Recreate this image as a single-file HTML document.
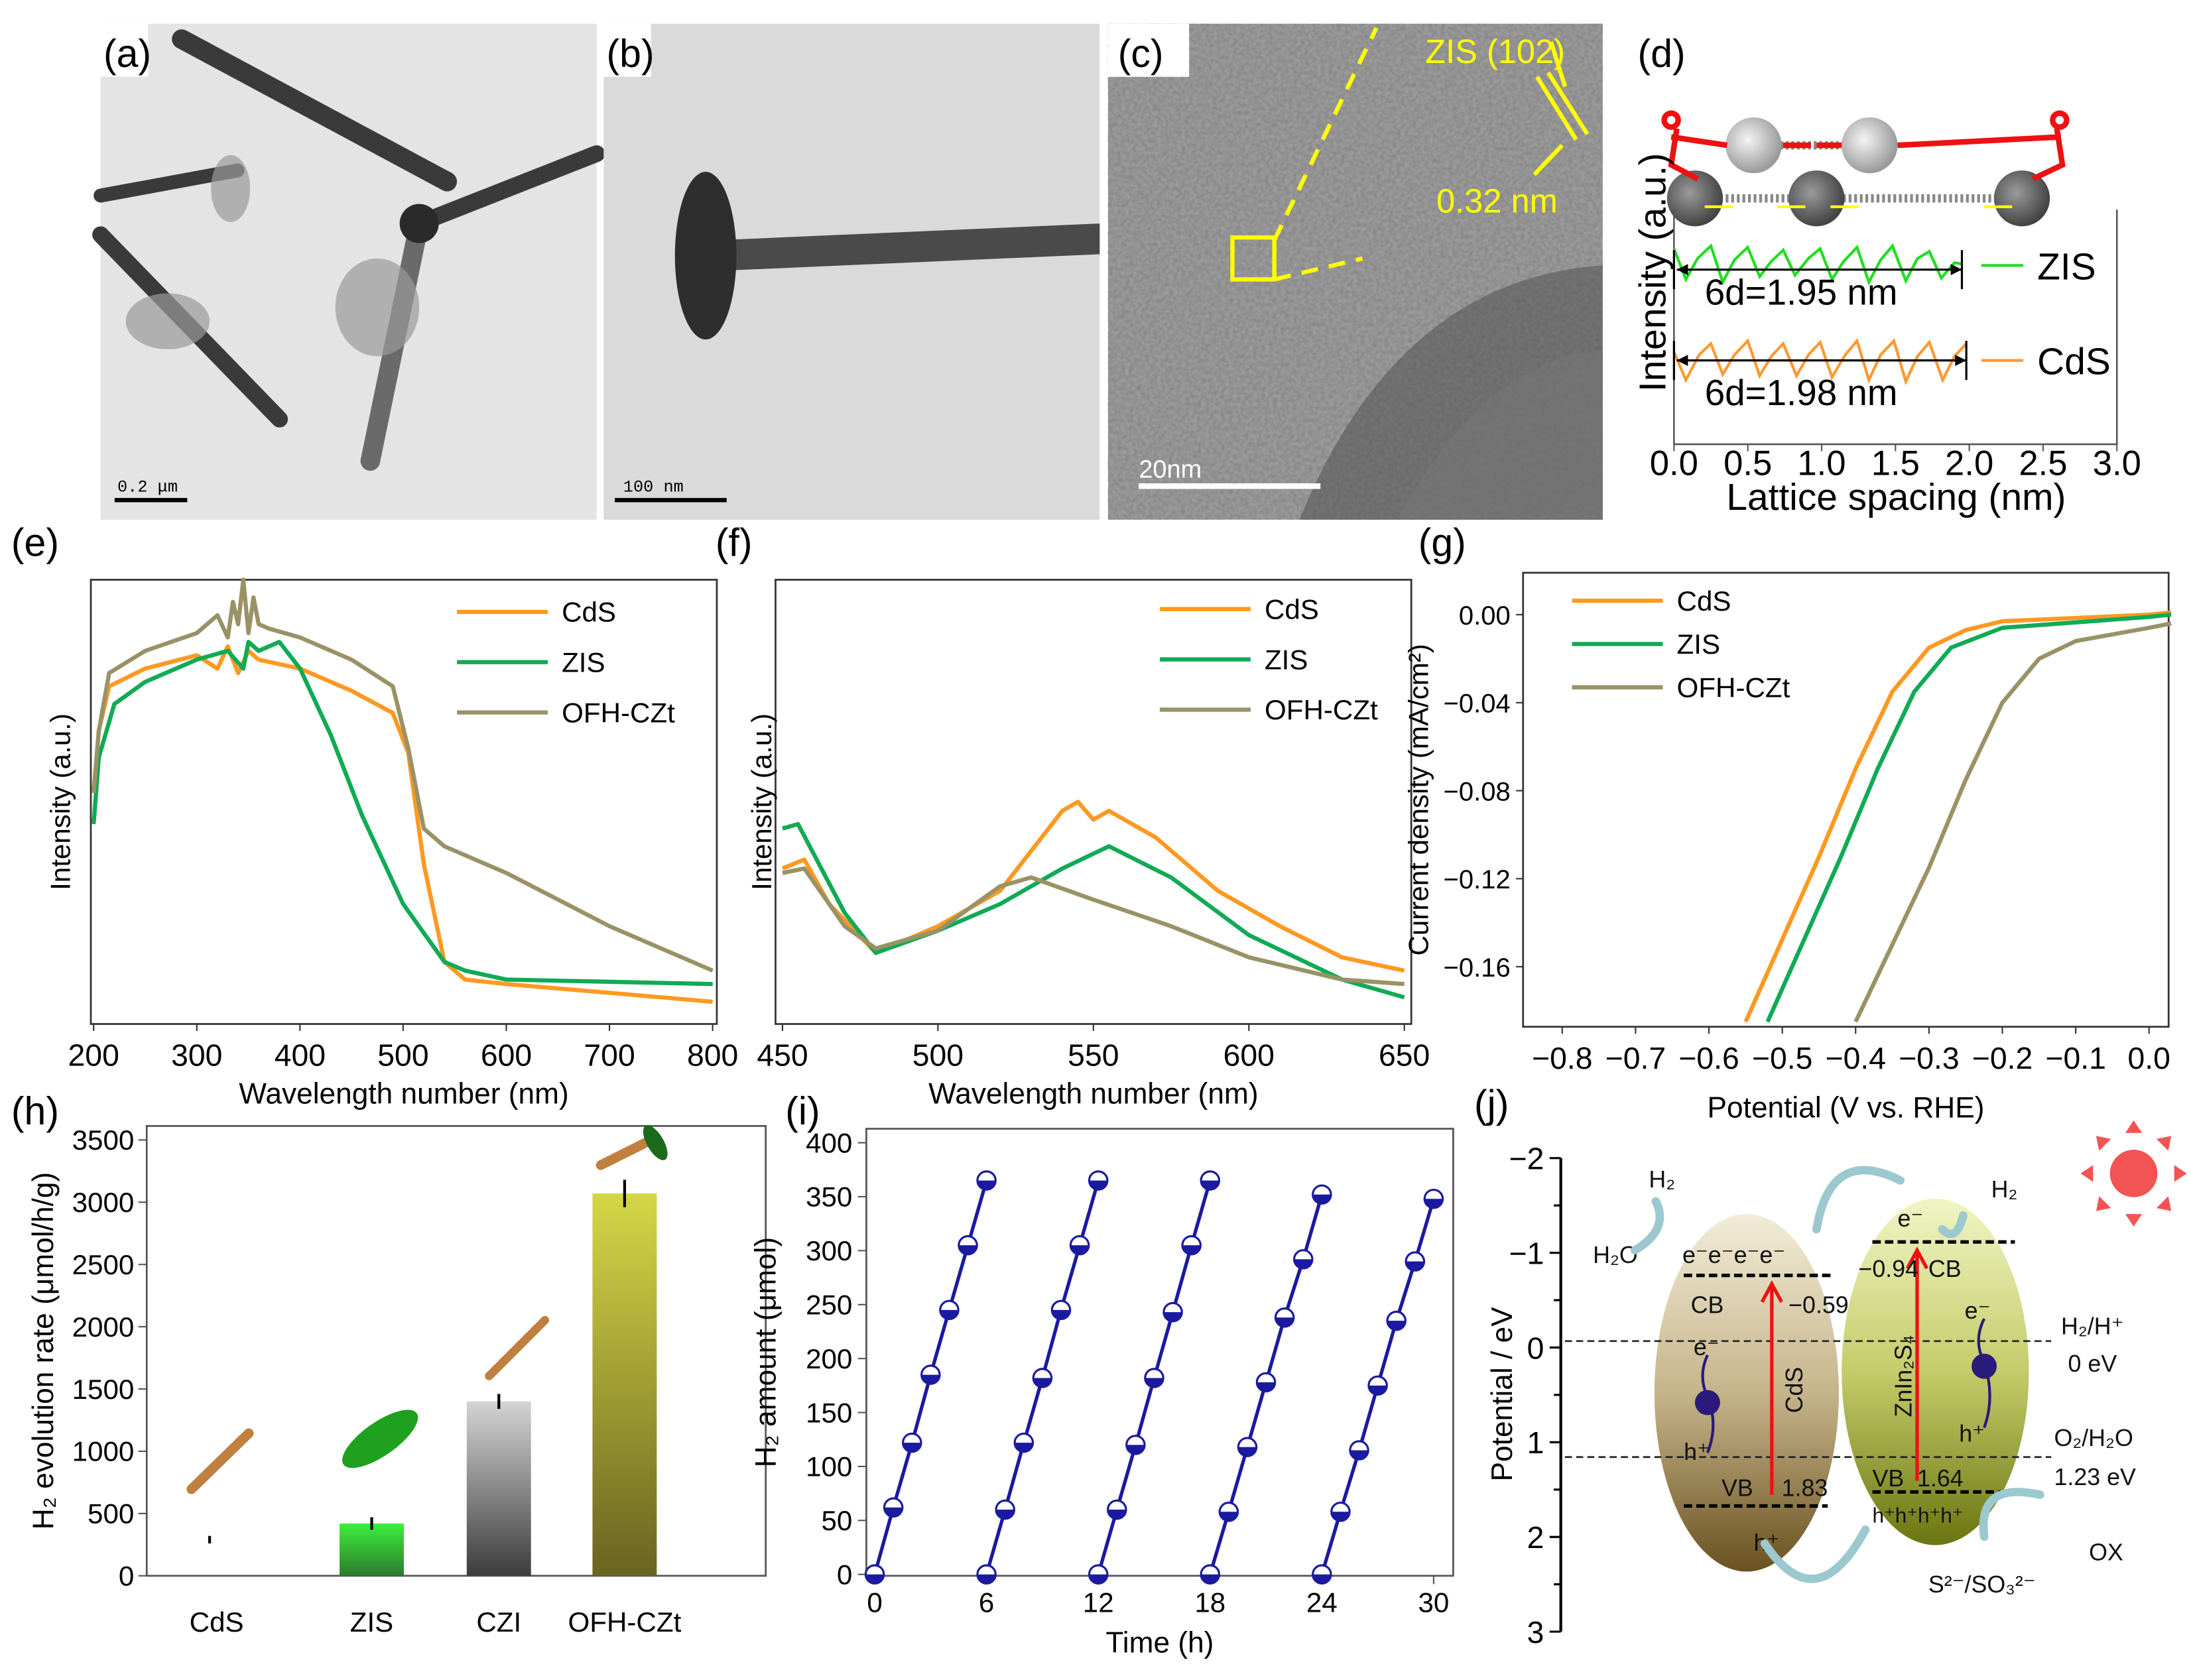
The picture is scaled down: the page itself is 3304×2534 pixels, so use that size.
<!DOCTYPE html>
<html><head><meta charset="utf-8">
<style>
html,body{margin:0;padding:0;background:#fff;}
svg{display:block;font-family:"Liberation Sans",sans-serif;}
</style></head>
<body>
<svg id="fig" width="3304" height="2534" viewBox="0 0 1568 1202.6" xmlns="http://www.w3.org/2000/svg">
<defs>
<filter id="noise" x="0" y="0" width="100%" height="100%">
<feTurbulence type="fractalNoise" baseFrequency="0.35" numOctaves="2" seed="3"/>
<feColorMatrix type="matrix" values="0 0 0 0 0.2  0 0 0 0 0.2  0 0 0 0 0.2  0 0 0 1.2 -0.35"/>
</filter>
<linearGradient id="gZIS" x1="0" y1="0" x2="0" y2="1"><stop offset="0" stop-color="#3cf03c"/><stop offset="1" stop-color="#2c7a2c"/></linearGradient>
<linearGradient id="gCZI" x1="0" y1="0" x2="0" y2="1"><stop offset="0" stop-color="#d4d4d4"/><stop offset="1" stop-color="#3c3c3c"/></linearGradient>
<linearGradient id="gOFH" x1="0" y1="0" x2="0" y2="1"><stop offset="0" stop-color="#d6d646"/><stop offset="1" stop-color="#6a6420"/></linearGradient>
<linearGradient id="gCdS" x1="0" y1="0" x2="0" y2="1"><stop offset="0" stop-color="#f2ecd8"/><stop offset="0.5" stop-color="#c6b48a"/><stop offset="1" stop-color="#6a5220"/></linearGradient>
<linearGradient id="gZn" x1="0" y1="0" x2="0" y2="1"><stop offset="0" stop-color="#f0f5c4"/><stop offset="0.5" stop-color="#c4cc6a"/><stop offset="1" stop-color="#6a7612"/></linearGradient>
<radialGradient id="gLight" cx="0.4" cy="0.4" r="0.6"><stop offset="0" stop-color="#f4f4f4"/><stop offset="1" stop-color="#9a9a9a"/></radialGradient>
<radialGradient id="gDark" cx="0.4" cy="0.4" r="0.6"><stop offset="0" stop-color="#9a9a9a"/><stop offset="1" stop-color="#444"/></radialGradient>
</defs>

<!-- (a) TEM -->
<g>
<rect x="72" y="17" width="355" height="355" fill="#e4e4e4"/>
<g stroke="#3a3a3a" stroke-linecap="round">
<line x1="130" y1="28" x2="320" y2="130" stroke-width="14"/>
<line x1="72" y1="168" x2="200" y2="300" stroke-width="12"/>
<line x1="72" y1="140" x2="170" y2="122" stroke-width="10"/>
<line x1="300" y1="160" x2="427" y2="110" stroke-width="12"/>
<line x1="300" y1="160" x2="265" y2="330" stroke-width="14" stroke="#6a6a6a"/>
</g>
<circle cx="300" cy="160" r="14" fill="#2a2a2a"/>
<g fill="#9a9a9a" opacity="0.7"><ellipse cx="120" cy="230" rx="30" ry="20"/><ellipse cx="270" cy="220" rx="30" ry="35"/><ellipse cx="165" cy="135" rx="14" ry="24"/></g>
<rect x="72" y="17" width="34" height="38" fill="#fff"/>
<text x="74" y="48" font-size="28">(a)</text>
<line x1="82" y1="358" x2="134" y2="358" stroke="#000" stroke-width="3"/>
<text x="84" y="352" font-size="12" font-family="Liberation Mono,monospace">0.2 μm</text>
</g>

<!-- (b) TEM -->
<g>
<rect x="432" y="17" width="355" height="355" fill="#dadada"/>
<path d="M512 172 L787 160 L787 182 L512 194 Z" fill="#4a4a4a"/>
<ellipse cx="505" cy="183" rx="22" ry="60" fill="#2e2e2e"/>
<rect x="432" y="17" width="34" height="38" fill="#fff"/>
<text x="434" y="48" font-size="28">(b)</text>
<line x1="440" y1="358" x2="520" y2="358" stroke="#000" stroke-width="3"/>
<text x="446" y="352" font-size="12" font-family="Liberation Mono,monospace">100 nm</text>
</g>

<!-- (c) HRTEM -->
<g>
<rect x="793" y="17" width="354" height="355" fill="#9a9a9a"/>
<rect x="793" y="17" width="354" height="355" filter="url(#noise)"/>
<path d="M930 372 Q1000 200 1147 190 L1147 372 Z" fill="#4c4c4c" opacity="0.5"/>
<path d="M1000 372 Q1060 260 1147 250 L1147 372 Z" fill="#777" opacity="0.6"/>
<g stroke="#ffff00" stroke-width="3" fill="none">
<rect x="882" y="170" width="30" height="30"/>
<line x1="912" y1="172" x2="985" y2="20" stroke-dasharray="12,8"/>
<line x1="912" y1="200" x2="975" y2="185" stroke-dasharray="12,8"/>
<line x1="1100" y1="55" x2="1128" y2="100"/><line x1="1108" y1="52" x2="1136" y2="96"/>
<line x1="1110" y1="30" x2="1120" y2="62"/>
<line x1="1098" y1="125" x2="1118" y2="104"/>
</g>
<text x="1020" y="45" font-size="24" fill="#ffff00">ZIS (102)</text>
<text x="1028" y="152" font-size="24" fill="#ffff00">0.32 nm</text>
<rect x="793" y="17" width="58" height="38" fill="#fff"/>
<text x="800" y="48" font-size="28">(c)</text>
<line x1="815" y1="348" x2="945" y2="348" stroke="#fff" stroke-width="4"/>
<text x="815" y="342" font-size="18" fill="#fff">20nm</text>
</g>

<!-- (d) -->
<g>
<text x="1172" y="48" font-size="28">(d)</text>
<g>
<line x1="1270" y1="104" x2="1340" y2="104" stroke="#888" stroke-width="6" stroke-dasharray="2,2"/>
<line x1="1215" y1="142" x2="1445" y2="142" stroke="#888" stroke-width="6" stroke-dasharray="2,2"/>
<circle cx="1255" cy="104" r="20" fill="url(#gLight)"/><circle cx="1338" cy="104" r="20" fill="url(#gLight)"/>
<circle cx="1213" cy="142" r="20" fill="url(#gDark)"/><circle cx="1300" cy="142" r="20" fill="url(#gDark)"/><circle cx="1447" cy="142" r="20" fill="url(#gDark)"/>
<g stroke="#ee1111" stroke-width="4" fill="none">
<path d="M1196 98 L1236 104 M1200 92 L1196 118 L1215 128 M1475 98 L1358 104 M1472 92 L1476 118 L1455 128"/>
<circle cx="1196" cy="86" r="5"/><circle cx="1474" cy="86" r="5"/>
<line x1="1276" y1="104" x2="1296" y2="104"/><line x1="1318" y1="104" x2="1300" y2="104"/>
</g>
<g stroke="#ffff00" stroke-width="2"><line x1="1220" y1="148" x2="1240" y2="148"/><line x1="1292" y1="148" x2="1272" y2="148"/><line x1="1310" y1="148" x2="1330" y2="148"/><line x1="1440" y1="148" x2="1420" y2="148"/></g>
</g>
<text transform="translate(1192,195) rotate(-90)" text-anchor="middle" font-size="27">Intensity (a.u.)</text>
<g id="dAxis"></g>
<text x="1357" y="365" text-anchor="middle" font-size="27">Lattice spacing (nm)</text>
</g>

<g id="panelE"></g>
<g id="panelF"></g>
<g id="panelG"></g>
<g id="panelH"></g>
<g id="panelI"></g>

<!-- (j) band diagram -->
<g>
<text x="1055" y="800" font-size="28">(j)</text>
<text transform="translate(1082,998) rotate(-90)" text-anchor="middle" font-size="21">Potential / eV</text>
<g id="jAxis"></g>
<ellipse cx="1250" cy="997" rx="66" ry="128" fill="url(#gCdS)"/>
<ellipse cx="1385" cy="982" rx="67" ry="124" fill="url(#gZn)"/>
<g stroke="#222" stroke-width="1.3" stroke-dasharray="5,3">
<line x1="1120" y1="960" x2="1468" y2="960"/><line x1="1120" y1="1043" x2="1468" y2="1043"/>
</g>
<g stroke="#000" stroke-width="2.5" stroke-dasharray="6,3">
<line x1="1205" y1="913" x2="1313" y2="913"/><line x1="1205" y1="1078" x2="1308" y2="1078"/>
<line x1="1340" y1="889" x2="1442" y2="889"/><line x1="1340" y1="1068" x2="1445" y2="1068"/>
</g>
<g stroke="#ee1111" stroke-width="2.5" fill="none">
<line x1="1268" y1="1070" x2="1268" y2="920"/><path d="M1261 932 L1268 919 L1275 932"/>
<line x1="1372" y1="1060" x2="1372" y2="895"/><path d="M1365 908 L1372 895 L1379 908"/>
</g>
<g font-size="17" fill="#111">
<text x="1204" y="904">e⁻e⁻e⁻e⁻</text>
<text x="1210" y="940">CB</text><text x="1280" y="940">−0.59</text>
<text x="1212" y="970">e⁻</text><text x="1205" y="1045">h⁺</text>
<text x="1232" y="1071">VB</text><text x="1275" y="1071">1.83</text>
<text x="1255" y="1110">h⁺</text>
<text transform="translate(1290,995) rotate(-90)" text-anchor="middle">CdS</text>
<text transform="translate(1368,985) rotate(-90)" text-anchor="middle">ZnIn₂S₄</text>
<text x="1358" y="878">e⁻</text>
<text x="1330" y="914">−0.94</text><text x="1380" y="914">CB</text>
<text x="1406" y="944">e⁻</text><text x="1402" y="1032">h⁺</text>
<text x="1340" y="1064">VB</text><text x="1372" y="1064">1.64</text>
<text x="1340" y="1090" font-size="15">h⁺h⁺h⁺h⁺</text>
<text x="1475" y="955">H₂/H⁺</text><text x="1480" y="982">0 eV</text>
<text x="1470" y="1035">O₂/H₂O</text><text x="1470" y="1063">1.23 eV</text>
<text x="1495" y="1117">OX</text>
<text x="1380" y="1140">S²⁻/SO₃²⁻</text>
<text x="1180" y="850">H₂</text><text x="1425" y="857">H₂</text>
<text x="1140" y="904">H₂O</text>
</g>
<g stroke="#9cc8d0" stroke-width="6" fill="none" stroke-linecap="round">
<path d="M1170 895 Q1195 880 1185 860"/>
<path d="M1300 880 Q1310 820 1360 845"/>
<path d="M1263 1105 Q1300 1160 1335 1095"/>
<path d="M1420 1100 Q1415 1060 1460 1070"/>
<path d="M1390 880 Q1400 890 1405 870"/>
</g>
<g fill="#2a1a7a"><circle cx="1222" cy="1004" r="9"/><circle cx="1420" cy="978" r="9"/></g>
<g stroke="#2a1a7a" stroke-width="2" fill="none"><path d="M1222 970 Q1215 985 1222 1000 Q1230 1020 1222 1040"/><path d="M1420 944 Q1412 960 1420 975 Q1428 1000 1420 1022"/></g>
<g fill="#f25454">
<circle cx="1527" cy="840" r="17"/>
<g id="rays"></g>
</g>
</g>
</svg>

<script>
var NS="http://www.w3.org/2000/svg";
function mk(parent,tag,attrs,txt){var e=document.createElementNS(NS,tag);for(var k in attrs)e.setAttribute(k,attrs[k]);if(txt!==undefined)e.textContent=txt;parent.appendChild(e);return e;}
function lin(d0,d1,r0,r1){return function(v){return r0+(v-d0)*(r1-r0)/(d1-d0);};}

// ===== (d) data =====
var dTicks=["0.0","0.5","1.0","1.5","2.0","2.5","3.0"];
var dZisX=[0,0.08,0.16,0.25,0.33,0.41,0.5,0.58,0.66,0.74,0.82,0.91,0.99,1.07,1.15,1.24,1.32,1.40,1.48,1.57,1.65,1.73,1.81,1.90,1.95];
var dZisY=[-12,10,-5,-14,12,-4,-13,8,-3,-11,7,-5,-12,10,-3,-13,12,-4,-14,11,-5,-10,9,-2,-1];
var dCdsX=[0,0.08,0.17,0.25,0.33,0.41,0.5,0.58,0.66,0.74,0.83,0.91,0.99,1.07,1.16,1.24,1.32,1.40,1.49,1.57,1.65,1.73,1.82,1.90,1.98];
var dCdsY=[-6,14,-4,-12,10,-4,-14,11,-3,-12,11,-4,-13,12,-4,-14,14,-4,-14,15,-3,-13,14,-3,-12];
(function(){
 var g=document.getElementById('dAxis');
 var x=lin(0,3,1198,1515);
 mk(g,'line',{x1:1198,y1:150,x2:1198,y2:318,stroke:'#555','stroke-width':1.2});
 mk(g,'line',{x1:1515,y1:150,x2:1515,y2:318,stroke:'#555','stroke-width':1.2});
 mk(g,'line',{x1:1198,y1:318,x2:1515,y2:318,stroke:'#555','stroke-width':1.2});
 for(var i=0;i<dTicks.length;i++){var xx=x(parseFloat(dTicks[i]));
  mk(g,'line',{x1:xx,y1:318,x2:xx,y2:323,stroke:'#555'});
  var t=mk(g,'text',{x:xx,y:340,'text-anchor':'middle','font-size':25},dTicks[i]);
  
  }
 function wave(xs,ys,cy,col,nm){var p='';for(var i=0;i<xs.length;i++)p+=(i?'L':'M')+x(xs[i]).toFixed(1)+' '+(cy+ys[i]);
  var e=mk(g,'path',{d:p,fill:'none',stroke:col,'stroke-width':2});
  
  }
 wave(dZisX,dZisY,190,'#22dd22','zis-profile');
 wave(dCdsX,dCdsY,258,'#ff9933','cds-profile');
 [[193,1.95],[258,1.98]].forEach(function(a){var xe=x(a[1]);
  mk(g,'line',{x1:1200,y1:a[0],x2:xe,y2:a[0],stroke:'#000','stroke-width':1.5});
  mk(g,'line',{x1:xe,y1:a[0]-14,x2:xe,y2:a[0]+14,stroke:'#000','stroke-width':1.5});
  mk(g,'line',{x1:1198,y1:a[0]-14,x2:1198,y2:a[0]+14,stroke:'#000','stroke-width':1.5});
  mk(g,'path',{d:'M1200 '+a[0]+' l8 -4 l0 8 z M'+xe+' '+a[0]+' l-8 -4 l0 8z',fill:'#000'});});
 mk(g,'text',{x:1220,y:218,'font-size':26},'6d=1.95 nm');
 mk(g,'text',{x:1220,y:290,'font-size':26},'6d=1.98 nm');
 mk(g,'line',{x1:1418,y1:190,x2:1448,y2:190,stroke:'#22dd22','stroke-width':2});
 mk(g,'text',{x:1458,y:200,'font-size':27},'ZIS');
 mk(g,'line',{x1:1418,y1:258,x2:1448,y2:258,stroke:'#ff9933','stroke-width':2});
 mk(g,'text',{x:1458,y:268,'font-size':27},'CdS');
})();

function linePanel(gid,o){
 var g=document.getElementById(gid);
 var x=lin(o.xd[0],o.xd[1],o.xr[0],o.xr[1]), y=lin(o.yd[0],o.yd[1],o.yr[0],o.yr[1]);
 mk(g,'rect',{x:o.box[0],y:o.box[1],width:o.box[2]-o.box[0],height:o.box[3]-o.box[1],fill:'none',stroke:'#333','stroke-width':1.3});
 o.xt.forEach(function(v){var xx=x(parseFloat(v.replace('−','-')));
  mk(g,'line',{x1:xx,y1:o.box[3],x2:xx,y2:o.box[3]+5,stroke:'#333'});
  var t=mk(g,'text',{x:xx,y:o.box[3]+30,'text-anchor':'middle','font-size':22},v);
  
  });
 if(o.yt)o.yt.forEach(function(v){var yy=y(parseFloat(v.replace('−','-')));
  mk(g,'line',{x1:o.box[0],y1:yy,x2:o.box[0]-5,y2:yy,stroke:'#333'});
  var t=mk(g,'text',{x:o.box[0]-9,y:yy+7,'text-anchor':'end','font-size':19},v);
  
  });
 o.series.forEach(function(s){var p='';for(var i=0;i<s.x.length;i++)p+=(i?'L':'M')+x(s.x[i]).toFixed(1)+' '+y(s.y[i]).toFixed(1);
  var e=mk(g,'path',{d:p,fill:'none',stroke:s.c,'stroke-width':3,'stroke-linejoin':'round'});
  
  });
 o.series.forEach(function(s,i){var ly=o.leg[1]+i*o.leg[2];
  var l=mk(g,'line',{x1:o.leg[0],y1:ly,x2:o.leg[0]+65,y2:ly,stroke:s.c,'stroke-width':3});
  
  
  mk(g,'text',{x:o.leg[0]+75,y:ly+7,'font-size':20},s.n);});
 mk(g,'text',{x:o.lab[0],y:o.lab[1],'font-size':28},o.label);
 var xt=mk(g,'text',{x:(o.box[0]+o.box[2])/2,y:o.xtY,'text-anchor':'middle','font-size':21},o.xtitle);
 
 
 var yt=mk(g,'text',{transform:'translate('+o.ytX+','+((o.box[1]+o.box[3])/2)+') rotate(-90)','text-anchor':'middle','font-size':20},o.ytitle);
 
 
}

// (e) UV-vis
var eTicks=["200","300","400","500","600","700","800"];
var eCdsX=[200,205,215,250,300,320,330,340,350,360,400,450,490,505,520,540,560,600,700,800];
var eCdsY=[52,66,76,80,83,80,85,79,84,82,80,75,70,61,36,14,10,9,7,5];
var eZisX=[200,205,220,250,300,330,345,350,360,380,400,430,460,500,540,560,600,800];
var eZisY=[45,60,72,77,82,84,80,86,84,86,80,65,47,27,14,12,10,9];
var eOfhX=[200,205,215,250,300,320,330,335,340,345,350,355,360,370,400,450,490,505,520,540,600,700,800];
var eOfhY=[52,66,79,84,88,92,87,95,90,100,88,96,90,89,87,82,76,62,44,40,34,22,12];
linePanel('panelE',{xd:[200,800],xr:[67,510],yd:[0,100],yr:[733,415],box:[65,415,513,733],
 xt:eTicks,series:[{n:'CdS',c:'#ff9922',x:eCdsX,y:eCdsY},{n:'ZIS',c:'#11aa55',x:eZisX,y:eZisY},{n:'OFH-CZt',c:'#9a9266',x:eOfhX,y:eOfhY}],
 leg:[327,438,36],lab:[8,398],label:'(e)',xtitle:'Wavelength number (nm)',xtY:790,ytitle:'Intensity (a.u.)',ytX:50});

// (f) PL
var fTicks=["450","500","550","600","650"];
var fCdsX=[450,457,465,480,500,520,540,545,550,555,570,590,610,630,650];
var fCdsY=[35,37,27,16,22,30,48,50,46,48,42,30,22,15,12];
var fZisX=[450,455,470,480,500,520,540,555,575,600,630,650];
var fZisY=[44,45,25,16,21,27,35,40,33,20,10,6];
var fOfhX=[450,457,470,480,500,520,530,550,575,600,630,650];
var fOfhY=[34,35,22,17,21,31,33,28,22,15,10,9];
linePanel('panelF',{xd:[450,650],xr:[560,1005],yd:[0,100],yr:[733,415],box:[555,415,1010,733],
 xt:fTicks,series:[{n:'CdS',c:'#ff9922',x:fCdsX,y:fCdsY},{n:'ZIS',c:'#11aa55',x:fZisX,y:fZisY},{n:'OFH-CZt',c:'#9a9266',x:fOfhX,y:fOfhY}],
 leg:[830,436,36],lab:[512,398],label:'(f)',xtitle:'Wavelength number (nm)',xtY:790,ytitle:'Intensity (a.u.)',ytX:552});

// (g) LSV
var gXTicks=["−0.8","−0.7","−0.6","−0.5","−0.4","−0.3","−0.2","−0.1","0.0"];
var gYTicks=["0.00","−0.04","−0.08","−0.12","−0.16"];
var gCdsX=[-0.55,-0.45,-0.40,-0.35,-0.30,-0.25,-0.20,0,0.03];
var gCdsY=[-0.185,-0.11,-0.07,-0.035,-0.015,-0.007,-0.003,0,0.001];
var gZisX=[-0.52,-0.42,-0.37,-0.32,-0.27,-0.20,0,0.03];
var gZisY=[-0.185,-0.11,-0.07,-0.035,-0.015,-0.006,-0.001,0];
var gOfhX=[-0.40,-0.30,-0.25,-0.20,-0.15,-0.10,0,0.03];
var gOfhY=[-0.185,-0.115,-0.075,-0.04,-0.02,-0.012,-0.006,-0.004];
linePanel('panelG',{xd:[-0.8,0],xr:[1118,1538],yd:[0,-0.16],yr:[440,692],box:[1090,410,1552,735],
 xt:gXTicks,yt:gYTicks,series:[{n:'CdS',c:'#ff9922',x:gCdsX,y:gCdsY},{n:'ZIS',c:'#11aa55',x:gZisX,y:gZisY},{n:'OFH-CZt',c:'#9a9266',x:gOfhX,y:gOfhY}],
 leg:[1125,430,31],lab:[1015,398],label:'(g)',xtitle:'Potential (V vs. RHE)',xtY:800,ytitle:'Current density (mA/cm²)',ytX:1022});

// (h) bars
var hCats=["CdS","ZIS","CZI","OFH-CZt"];
var hVals=[290,420,1400,3070];
var hErr=[30,50,60,110];
var hTicks=[0,500,1000,1500,2000,2500,3000,3500];
(function(){
 var g=document.getElementById('panelH');
 var y=lin(0,3500,1128,816);
 var xc=[150,266,357,447], fills=['none','url(#gZIS)','url(#gCZI)','url(#gOFH)'];
 mk(g,'rect',{x:105,y:806,width:443,height:322,fill:'none',stroke:'#555','stroke-width':1.3});
 hTicks.forEach(function(v){var yy=y(v);
  mk(g,'line',{x1:105,y1:yy,x2:99,y2:yy,stroke:'#555'});
  var t=mk(g,'text',{x:96,y:yy+7,'text-anchor':'end','font-size':20},String(v));
  
  });
 for(var i=0;i<hCats.length;i++){
  var b=mk(g,'rect',{x:xc[i]-23,y:y(hVals[i]),width:46,height:1128-y(hVals[i]),fill:fills[i]});
  
  
  mk(g,'line',{x1:xc[i],y1:y(hVals[i]+hErr[i]),x2:xc[i],y2:y(hVals[i]-hErr[i]),stroke:'#000','stroke-width':2});
  var t=mk(g,'text',{x:xc[i]+(i==0?5:0),y:1168,'text-anchor':'middle','font-size':20},hCats[i]);
  
  }
 mk(g,'line',{x1:137,y1:1066,x2:178,y2:1026,stroke:'#c08040','stroke-width':7,'stroke-linecap':'round'});
 mk(g,'ellipse',{cx:272,cy:1030,rx:32,ry:12,fill:'#1fa01f',transform:'rotate(-35 272 1030)'});
 mk(g,'line',{x1:350,y1:985,x2:390,y2:945,stroke:'#c08040','stroke-width':6,'stroke-linecap':'round'});
 mk(g,'line',{x1:430,y1:834,x2:466,y2:816,stroke:'#c08040','stroke-width':7,'stroke-linecap':'round'});
 mk(g,'ellipse',{cx:469,cy:818,rx:6,ry:14,fill:'#1a6a1a',transform:'rotate(-30 469 818)'});
 mk(g,'text',{x:8,y:805,'font-size':28},'(h)');
 var yt=mk(g,'text',{transform:'translate(38,967) rotate(-90)','text-anchor':'middle','font-size':21},'H₂ evolution rate (μmol/h/g)');
 
 
})();

// (i) cycling
var iTime=[0,1,2,3,4,5,6, 6,7,8,9,10,11,12, 12,13,14,15,16,17,18, 18,19,20,21,22,23,24, 24,25,26,27,28,29,30];
var iAmt=[0,62,122,185,245,305,365, 0,60,122,182,245,305,365, 0,60,120,182,243,305,365, 0,58,118,178,238,292,352, 0,58,115,175,235,290,348];
var iXTicks=[0,6,12,18,24,30];
var iYTicks=[0,50,100,150,200,250,300,350,400];
(function(){
 var g=document.getElementById('panelI');
 var x=lin(0,30,626,1026), y=lin(0,400,1127,818);
 mk(g,'rect',{x:620,y:808,width:420,height:320,fill:'none',stroke:'#555','stroke-width':1.3});
 iXTicks.forEach(function(v){var xx=x(v);mk(g,'line',{x1:xx,y1:1128,x2:xx,y2:1134,stroke:'#555'});
  var t=mk(g,'text',{x:xx,y:1154,'text-anchor':'middle','font-size':20},String(v));
  
  });
 iYTicks.forEach(function(v){var yy=y(v);mk(g,'line',{x1:620,y1:yy,x2:614,y2:yy,stroke:'#555'});
  var t=mk(g,'text',{x:610,y:yy+7,'text-anchor':'end','font-size':20},String(v));
  
  });
 for(var c=0;c<5;c++){var p='';for(var k=0;k<7;k++){var j=c*7+k;p+=(k?'L':'M')+x(iTime[j]).toFixed(1)+' '+y(iAmt[j]).toFixed(1);}
  var l=mk(g,'path',{d:p,fill:'none',stroke:'#1a1aa0','stroke-width':2.5});
  
  }
 for(var j=0;j<iTime.length;j++){var cx=x(iTime[j]),cy=y(iAmt[j]);
  var m=mk(g,'circle',{cx:cx,cy:cy,r:6.5,fill:'#fff',stroke:'#1a1aa0','stroke-width':1.5});
  
  
  mk(g,'path',{d:'M'+(cx-6.5)+' '+cy+' A6.5 6.5 0 0 0 '+(cx+6.5)+' '+cy+' Z',fill:'#1a1aa0'});}
 mk(g,'text',{x:562,y:805,'font-size':28},'(i)');
 var xt=mk(g,'text',{x:830,y:1183,'text-anchor':'middle','font-size':21},'Time (h)');
 
 
 var yt=mk(g,'text',{transform:'translate(555,968) rotate(-90)','text-anchor':'middle','font-size':21},'H₂ amount (μmol)');
 
 
})();

// (j) axis
var jTicks=["−2","−1","0","1","2","3"];
(function(){
 var g=document.getElementById('jAxis');
 var y=lin(-2,3,829,1168);
 mk(g,'line',{x1:1117,y1:829,x2:1117,y2:1168,stroke:'#000','stroke-width':2});
 for(var v=-2;v<=3;v+=0.5){var yy=y(v);mk(g,'line',{x1:1117,y1:yy,x2:(v%1===0)?1109:1112,y2:yy,stroke:'#000','stroke-width':1.5});}
 jTicks.forEach(function(s){var yy=y(parseFloat(s.replace('−','-')));
  var t=mk(g,'text',{x:1105,y:yy+8,'text-anchor':'end','font-size':22},s);
  
  });
 var r=document.getElementById('rays');
 for(var a=0;a<8;a++){var th=a*Math.PI/4,cx=1527+29*Math.cos(th),cy=840+29*Math.sin(th);
  mk(r,'polygon',{points:(1527+38*Math.cos(th))+','+(840+38*Math.sin(th))+' '+(cx+6*Math.sin(th))+','+(cy-6*Math.cos(th))+' '+(cx-6*Math.sin(th))+','+(cy+6*Math.cos(th))});}
})();
</script>
</body></html>
